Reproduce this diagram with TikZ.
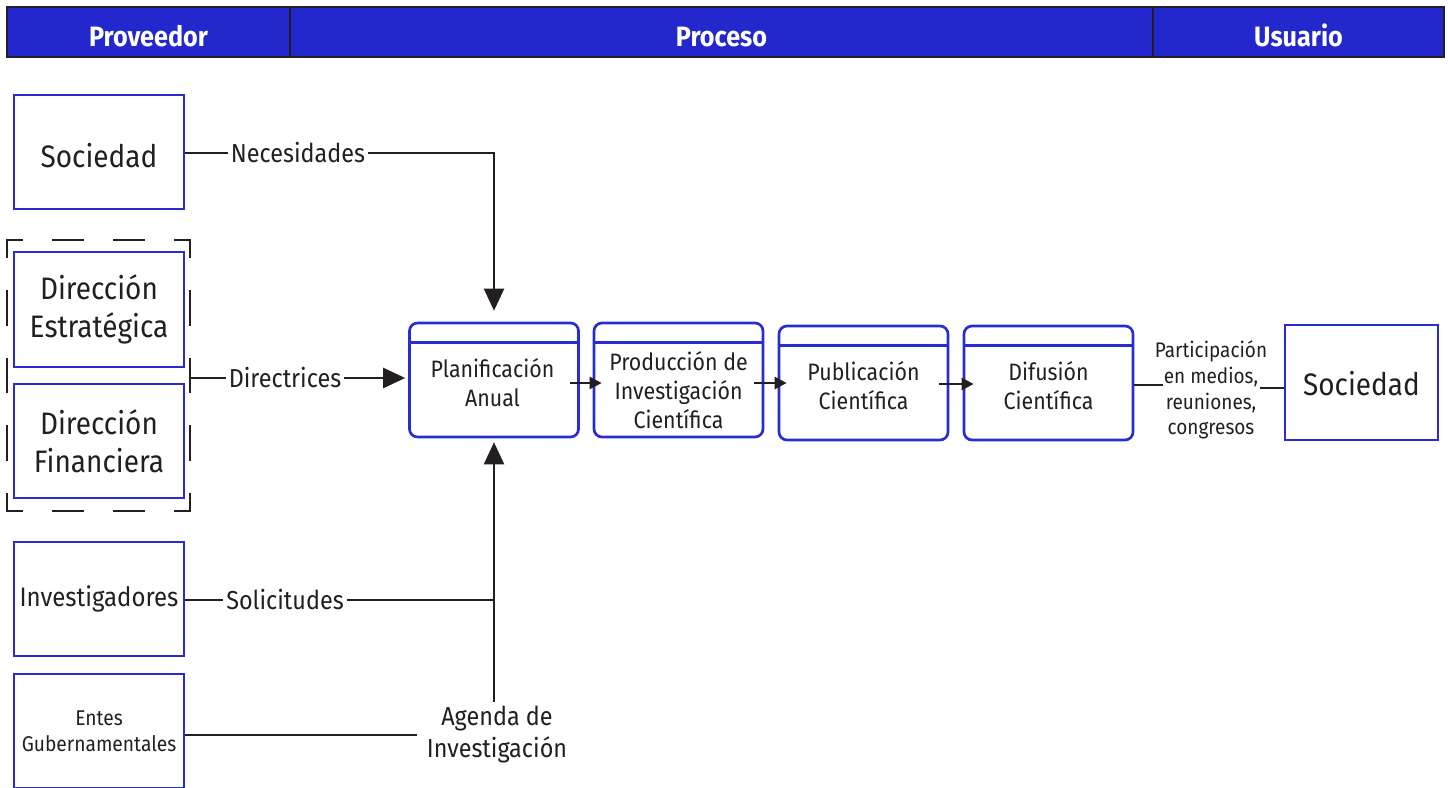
\documentclass[tikz,border=0pt]{standalone}
\usepackage{fontspec}
\setmainfont{Fira Sans}[FakeStretch=0.9]
\usetikzlibrary{arrows.meta,calc}
\definecolor{hdrblue}{RGB}{35,40,204}
\definecolor{boxblue}{RGB}{40,44,210}
\definecolor{ink}{RGB}{35,31,32}
\newcommand\fsz[2]{\fontsize{#1}{#2}\selectfont}
\begin{document}
\begin{tikzpicture}[x=0.75pt,y=-0.75pt,
  every node/.style={text=ink},
  lbox/.style={draw=boxblue,line width=1.6pt,minimum width=127.5pt,minimum height=85.5pt,inner sep=0pt,align=center},
  pbox/.style={draw=boxblue,line width=2pt,rounded corners=6pt,minimum width=126.75pt,minimum height=85.5pt,inner sep=0pt},
  hbox/.style={draw=ink,fill=hdrblue,line width=2.2pt,minimum height=37.5pt,inner sep=0pt},
  htext/.style={text=white,font=\fsz{21}{25}\bfseries,anchor=base,inner sep=0pt},
  conn/.style={draw=ink,line width=1.8pt},
  bigarrow/.style={conn,-{Triangle[length=16.5pt,width=15pt]}},
  smallarrow/.style={conn,-{Triangle[length=9pt,width=9pt]}},
  lbl/.style={font=\fsz{19.5}{24},inner sep=2pt,align=center},
  ptext/.style={font=\fsz{17.8}{21.75},align=center,inner sep=0pt},
  dashtb/.style={draw=ink,line width=1.9pt,line cap=rect,dash pattern=on 22.5pt off 23.25pt,dash phase=11.25pt},
  dashlr/.style={draw=ink,line width=1.9pt,line cap=rect,dash pattern=on 24.75pt off 26.06pt,dash phase=12.375pt}
]
\useasboundingbox (0,0) rectangle (1448,788);

% header
\node[hbox,minimum width=212.25pt] (h1) at (148.5,32) {};
\node[hbox,minimum width=647.25pt] (h2) at (721.5,32) {};
\node[hbox,minimum width=218.25pt] (h3) at (1298.5,32) {};
\node[htext] (h1t) at (148.5,47) {Proveedor};
\node[htext] (h2t) at (721.5,47) {Proceso};
\node[htext] (h3t) at (1298.5,47) {Usuario};

% left column
\node[lbox,font=\fsz{23.3}{28.5}] (soc1) at (99,152) {};
\node[font=\fsz{23.3}{28.5},anchor=base,inner sep=0pt] (soc1T) at (99,167) {Sociedad};
\node[lbox,font=\fsz{23.3}{28.5},minimum height=86.25pt] (dirE) at (99,309.5) {Dirección\\Estratégica};
\node[lbox,font=\fsz{23.3}{28.5}] (dirF) at (99,441) {Dirección\\Financiera};
\node[lbox,font=\fsz{20}{24}] (inv) at (99,599) {Investigadores};
\node[lbox,font=\fsz{16}{19.5}] (entes) at (99,731) {Entes\\Gubernamentales};

% dashed group
\node[minimum width=137.25pt,minimum height=203.25pt,inner sep=0pt,outer sep=0pt] (dashbox) at (98.5,375.5) {};
\draw[dashtb] (dashbox.north west) -- (dashbox.north east);
\draw[dashtb] (dashbox.south west) -- (dashbox.south east);
\draw[dashlr] (dashbox.north west) -- (dashbox.south west);
\draw[dashlr] (dashbox.north east) -- (dashbox.south east);

% process boxes
\node[pbox] (plan) at (494,380) {};
\node[pbox] (prod) at (678.5,380) {};
\node[pbox] (pub) at (863.5,383) {};
\node[pbox] (dif) at (1048.5,383) {};
\foreach \b in {plan,prod,pub,dif}{
  \draw[boxblue,line width=2pt] ($(\b.north west)+(0,21)$) -- ($(\b.north east)+(0,21)$);
}
\node[ptext] (planT) at (492.5,383) {Planificación\\Anual};
\node[ptext] (prodT) at (678.5,390) {Producción de\\Investigación\\Científica};
\node[ptext] (pubT) at (863.5,386) {Publicación\\Científica};
\node[ptext] (difT) at (1048.5,386) {Difusión\\Científica};

% right
\node[lbox,minimum width=114.75pt,minimum height=86.25pt] (soc2) at (1361.5,382.5) {};
\node[font=\fsz{23.3}{28.5},anchor=base,inner sep=0pt] (soc2T) at (1361.5,395) {Sociedad};

% labels
\node[lbl] (necL) at (298,153) {Necesidades};
\node[lbl] (dirL) at (285,378) {Directrices};
\node[lbl] (solL) at (285,600) {Solicitudes};
\node[lbl,inner xsep=7.5pt,inner ysep=3pt] (agL) at (497,735) {Agenda de\\Investigación};
\node[font=\fsz{15.8}{19.3},align=center,inner sep=0pt] (partL) at (1211,390) {Participación\\en medios,\\reuniones,\\congresos};

% connectors
\draw[conn] (soc1.east |- necL.west) -- (necL.west);
\draw[bigarrow,shorten >=8.25pt] (necL.east) -| (plan.north);
\draw[conn] (dirL.west -| dashbox.east) -- (dirL.west);
\draw[bigarrow,shorten >=2.25pt] (dirL.east) -- (dirL.east -| plan.west);
\draw[conn] (solL.west -| inv.east) -- (solL.west);
\draw[conn] (solL.east) -- (solL.east -| plan.south);
\draw[bigarrow,shorten >=3pt] (agL.north -| plan.south) -- (plan.south);
\draw[conn] (agL.west -| entes.east) -- (agL.west);

\draw[smallarrow] ($(plan.east)+(-10,3)$) -- ($(prod.west)+(9,3)$);
\draw[smallarrow] ($(prod.east)+(-10,3)$) -- ($(pub.west)+(9,0)$);
\draw[smallarrow] ($(pub.east)+(-10,1)$) -- ($(dif.west)+(11,1)$);

\coordinate (p1) at (1163,385);
\coordinate (p2) at (1260,388);
\draw[conn] ($(dif.east)+(0,2)$) -- (p1);
\draw[conn] (p2) -- (p2 -| soc2.west);
\end{tikzpicture}
\end{document}
